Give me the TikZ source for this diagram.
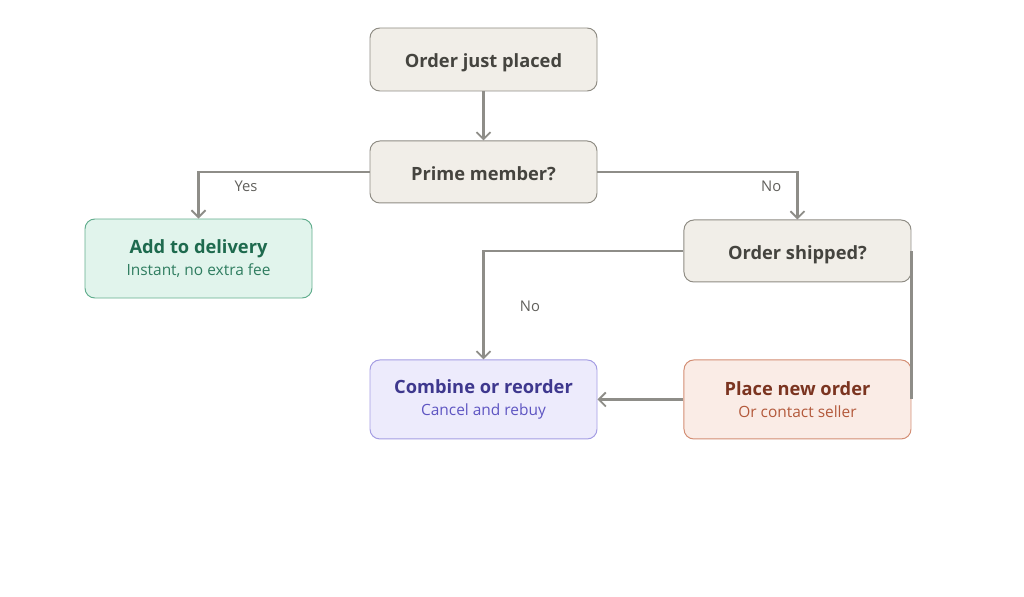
\documentclass[tikz,border=0pt]{standalone}
\usepackage{fontspec}
\setmainfont{Open Sans}
\usepackage{tikz}
\usetikzlibrary{arrows.meta, positioning}
\definecolor{Stone}      {HTML}{F1EEE8}
\definecolor{StoneLine}  {HTML}{8F8C84}
\definecolor{StoneText}  {HTML}{45443F}
\definecolor{Mint}       {HTML}{E1F4EC}
\definecolor{MintLine}   {HTML}{62AE8E}
\definecolor{MintText}   {HTML}{1E6A4E}
\definecolor{MintSub}    {HTML}{2F7D60}
\definecolor{Lilac}      {HTML}{EDEBFC}
\definecolor{LilacLine}  {HTML}{A49DE3}
\definecolor{LilacText}  {HTML}{3E388E}
\definecolor{LilacSub}   {HTML}{5E55C2}
\definecolor{Peach}      {HTML}{FAECE6}
\definecolor{PeachLine}  {HTML}{D38E74}
\definecolor{PeachText}  {HTML}{7B3420}
\definecolor{PeachSub}   {HTML}{B3593B}
\definecolor{Wire}       {HTML}{8E8D88}

\begin{document}
\begin{tikzpicture}[>={Straight Barb[length=5pt, width=10pt, line width=1.3pt]},
  box/.style={draw, rounded corners=7pt, line width=0.7pt, minimum width=5.675cm, align=center},
  ask/.style={box, draw=StoneLine, fill=Stone, text=StoneText, minimum height=1.55cm,
    text height=11.5pt, text depth=0pt, font=\fontsize{13}{16}\selectfont\bfseries},
  fin/.style={box, minimum height=1.975cm},
  wire/.style={draw=Wire, line width=1.6pt},
  tag/.style={text=StoneText!85, font=\fontsize{10.5}{12}\selectfont}]
  \useasboundingbox (0,0) rectangle (25.6,-14.925);

  \node[ask, minimum height=1.575cm] (placed) at (12.0875,-1.4875) {Order just placed};
  \node[ask, below=1.225cm of placed] (prime) {Prime member?};
  \node[fin, draw=MintLine, fill=Mint] (deliv) at (4.9625,-6.4625)
    {{\fontsize{13}{16}\selectfont\bfseries\color{MintText} Add to delivery}\\[4pt]
     {\fontsize{11}{14}\selectfont\color{MintSub} Instant, no extra fee}};
  \node[fin, draw=LilacLine, fill=Lilac, below=3.9cm of prime] (combine)
    {{\fontsize{13}{16}\selectfont\bfseries\color{LilacText} Combine or reorder}\\[4pt]
     {\fontsize{11}{14}\selectfont\color{LilacSub} Cancel and rebuy}};
  \node[fin, draw=PeachLine, fill=Peach, right=2.15cm of combine] (neworder)
    {{\fontsize{13}{16}\selectfont\bfseries\color{PeachText} Place new order}\\[4pt]
     {\fontsize{11}{14}\selectfont\color{PeachSub} Or contact seller}};
  \node[ask, above=1.925cm of neworder] (shipped) {Order shipped?};

  \draw[wire, ->] (placed) -- (prime);
  \draw[wire, ->] (prime.west) -| (deliv.north);
  \draw[wire, ->] (prime.east) -| (shipped.north);
  \draw[wire, ->] (shipped.west) -| (combine.north);
  \draw[wire] (shipped.east) -- (neworder.east);
  \draw[wire, ->] (neworder) -- (combine);

  \node[tag] (yes) at (6.15,-4.65) {Yes};
  \node[tag] (no1) at (19.28,-4.65) {No};
  \node[tag] (no2) at (13.25,-7.65) {No};
\end{tikzpicture}
\end{document}
